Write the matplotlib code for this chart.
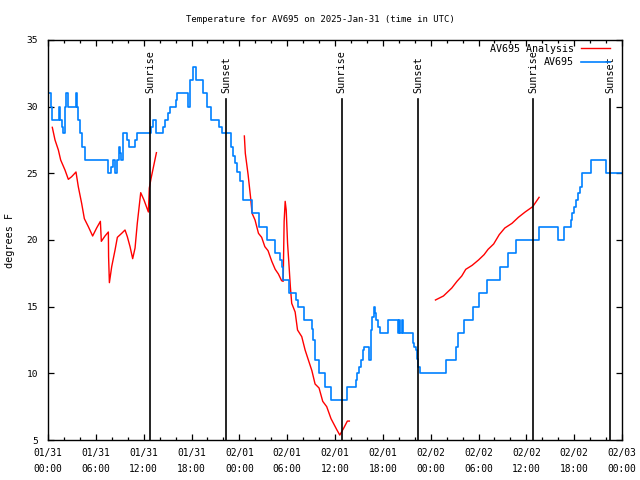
import numpy as np
import pandas as pd
import matplotlib
matplotlib.use("Agg")
import matplotlib.pyplot as plt
import matplotlib.dates as mdates
from matplotlib.transforms import blended_transform_factory

# ---------------- data ----------------
start = pd.Timestamp("2025-01-31 00:00")
x_span_hours = 72

obs_hours = [0.0, 0.37, 0.54, 1.38, 1.51, 1.7, 1.92, 2.1, 2.22, 2.47, 3.47, 3.6, 3.8, 4.05,
             4.3, 4.6, 7.49, 7.95, 8.2, 8.45, 8.6, 8.9, 9.05, 9.2, 9.4, 9.95, 10.2, 10.95,
             11.2, 12.9, 13.2, 13.55, 14.45, 14.7, 15.05, 15.3, 16.0, 16.2, 17.6, 17.85,
             18.25, 18.55, 19.4, 19.9, 20.5, 21.45, 21.8, 22.9, 23.2, 23.45, 23.75, 24.1,
             24.5, 25.55, 26.5, 27.45, 28.5, 29.05, 29.3, 29.5, 30.25, 31.15, 31.3, 32.1,
             33.1, 33.3, 33.5, 34.0, 34.7, 35.5, 37.55, 38.6, 38.75, 39.0, 39.2, 39.45,
             39.6, 40.3, 40.55, 40.7, 40.9, 41.05, 41.2, 41.45, 41.6, 42.6, 43.9, 44.05,
             44.2, 44.35, 44.5, 45.8, 45.95, 46.15, 46.3, 46.45, 46.65, 49.9, 51.2, 51.45,
             52.2, 53.3, 54.1, 55.1, 56.7, 57.7, 58.75, 61.6, 63.95, 64.7, 65.55, 65.75,
             65.95, 66.2, 66.45, 66.7, 66.96, 68.05, 70.05, 72.0]
obs_temps = [31, 30, 29, 30, 29, 28.5, 28, 30, 31, 30, 31, 30, 29, 28,
             27, 26, 25, 25.5, 26, 25, 26, 27, 26.5, 26, 28, 27.5, 27, 27.5,
             28, 28.5, 29, 28, 28.5, 29, 29.5, 30, 30.5, 31, 30, 32,
             33, 32, 31, 30, 29, 28.5, 28, 27, 26.3, 25.8, 25.1, 24.4,
             23, 22, 21, 20, 19, 18.5, 18, 17, 16, 15.5, 15, 14,
             13.3, 12.5, 11, 10, 9, 8, 9, 9.5, 10, 10.5, 11, 11.75,
             12, 11, 13.25, 14.25, 15, 14.5, 14, 13.5, 13, 14, 13, 14,
             13, 14, 13, 12.25, 12, 11.75, 11.1, 10.5, 10, 11, 12, 13,
             14, 15, 16, 17, 18, 19, 20, 21, 20, 21, 21.5, 22,
             22.5, 23, 23.5, 24, 25, 26, 25, 25]

ana1_hours = [0.54, 0.88, 1.3, 1.59, 2.13, 2.55, 2.97, 3.51, 3.8, 4.22, 4.56, 5.06, 5.6,
              6.1, 6.57, 6.69, 7.15, 7.57, 7.6, 7.7, 7.99, 8.41, 8.7, 9.24, 9.66, 9.95,
              10.29, 10.62, 10.92, 11.2, 11.63, 12.04, 12.59, 12.71, 12.92, 13.2, 13.6]
ana1_temps = [28.45, 27.5, 26.75, 26.0, 25.25, 24.55, 24.75, 25.1, 24.0, 22.75, 21.6, 21.0,
              20.3, 20.9, 21.4, 19.9, 20.3, 20.6, 18.75, 16.8, 18.0, 19.25, 20.2, 20.5,
              20.75, 20.25, 19.5, 18.6, 19.4, 21.25, 23.55, 23.0, 22.1, 23.9, 24.6, 25.4,
              26.55]

ana2_hours = [24.63, 24.75, 25.1, 25.4, 25.6, 25.97, 26.4, 26.8, 27.2, 27.6, 28.07, 28.5,
              28.9, 29.3, 29.5, 29.62, 29.75, 29.88, 30.05, 30.2, 30.4, 30.57, 31.0, 31.3,
              31.83, 32.25, 32.66, 33.1, 33.5, 34.0, 34.46, 34.96, 35.5, 36.2, 36.6, 37.1,
              37.55, 37.8]
ana2_temps = [27.8, 26.5, 24.9, 23.25, 22.0, 21.5, 20.5, 20.2, 19.5, 19.2, 18.4, 17.8,
              17.45, 16.95, 16.9, 21.4, 22.9, 22.25, 19.75, 18.4, 16.5, 15.25, 14.6, 13.25,
              12.75, 11.75, 11.0, 10.2, 9.2, 8.9, 7.9, 7.5, 6.6, 5.8, 5.37, 5.9,
              6.42, 6.42]

ana3_hours = [48.6, 49.6, 50.65, 51.3, 51.9, 52.4, 53.2, 54.0, 54.7, 55.2, 55.9, 56.6,
              57.3, 58.2, 59.0, 59.85, 60.8, 61.6]
ana3_temps = [15.5, 15.8, 16.4, 16.9, 17.3, 17.8, 18.1, 18.5, 18.9, 19.3, 19.7, 20.4,
              20.9, 21.25, 21.7, 22.1, 22.5, 23.2]

sun_hours = [12.83, 22.37, 36.85, 46.45, 60.88, 70.55]
sun_labels = ["Sunrise", "Sunset", "Sunrise", "Sunset", "Sunrise", "Sunset"]

title = "Temperature for AV695 on 2025-Jan-31 (time in UTC)"
ylabel = "degrees F"
obs_name = "AV695"
ana_name = "AV695 Analysis"
y_ticks = [5, 10, 15, 20, 25, 30, 35]


def to_time(hours):
    return start + pd.to_timedelta(hours, unit="h")


# ---------------- figure ----------------
mono = "DejaVu Sans Mono"
plt.rcParams["font.family"] = mono

W, H = 640, 480
fig = plt.figure(figsize=(6.4, 4.8), dpi=100)
ax = fig.add_axes([48 / W, 40 / H, 574 / W, 400 / H])

red = "#ff0000"
blue = "#0080ff"

ax.plot(to_time(ana1_hours), ana1_temps, color=red, lw=1.0, label=ana_name)
ax.plot(to_time(ana2_hours), ana2_temps, color=red, lw=1.0)
ax.plot(to_time(ana3_hours), ana3_temps, color=red, lw=1.0)
ax.step(to_time(obs_hours), obs_temps, where="post", color=blue, lw=1.2, label=obs_name)

trans = blended_transform_factory(ax.transData, ax.transAxes)
for h, lab in zip(sun_hours, sun_labels):
    t = mdates.date2num(to_time(h))
    ax.plot([t, t], [0, 0.8525], transform=trans, color="black", lw=1.2, zorder=3)
    ax.text(t, 0.868, lab, transform=trans, rotation=90, ha="center", va="bottom",
            fontsize=7.3, family=mono)

ax.set_xlim(to_time(0), to_time(x_span_hours))
ax.set_ylim(5, 35)
ax.set_yticks(y_ticks)
ax.xaxis.set_major_locator(mdates.HourLocator(byhour=[0, 6, 12, 18]))
ax.xaxis.set_minor_locator(mdates.HourLocator(byhour=range(0, 24, 2)))
ax.xaxis.set_major_formatter(mdates.DateFormatter("%m/%d\n%H:%M"))

ax.tick_params(axis="both", which="both", direction="in", top=True, right=True,
               width=0.9)
ax.tick_params(axis="x", which="major", length=4.5, pad=6, labelsize=6.9)
ax.tick_params(axis="y", which="major", length=4.5, pad=7, labelsize=6.8)
ax.tick_params(axis="x", which="minor", length=2.5)
for lab in ax.get_xticklabels():
    lab.set_linespacing(1.75)
for s in ax.spines.values():
    s.set_linewidth(1.0)

fig.text(0.5, 1 - 19 / H, title, ha="center", va="center", fontsize=6.5, family=mono)
ax.set_ylabel(ylabel, fontsize=7.3, family=mono, va="center")
ax.yaxis.set_label_coords((10 - 48) / 574, 0.5)

leg = ax.legend(loc="upper right", bbox_to_anchor=(1 - 12 / 574, 1 - 4 / 400),
                frameon=False, markerfirst=False, prop={"family": mono, "size": 7.2},
                handlelength=2.9, handletextpad=0.7, labelspacing=0.35,
                borderaxespad=0.0, borderpad=0.0)
try:
    for col in leg._legend_handle_box.get_children():
        col.align = "right"
except Exception:
    pass

fig.savefig("out.png", dpi=100)
